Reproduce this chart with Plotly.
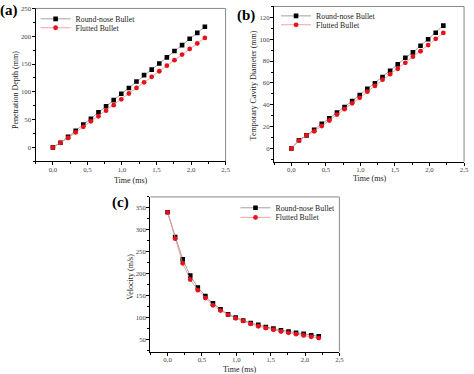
import plotly.graph_objects as go

time_ms = [0.0, 0.11, 0.22, 0.33, 0.44, 0.55, 0.66, 0.77, 0.88, 0.99, 1.10,
           1.21, 1.32, 1.43, 1.54, 1.65, 1.76, 1.87, 1.98, 2.09, 2.20]

depth_round = [0, 8.5, 19, 30, 41, 51.5, 63, 74, 85, 96.5, 107,
               118.5, 130, 140, 151, 162, 173.5, 184, 195.5, 206, 217]
depth_flutted = [0, 8, 17, 27, 37, 47, 56, 66, 76, 86.5, 97,
                 107, 117, 127, 137, 147, 157, 167, 177, 187, 197]

cavity_round = [0, 7.5, 12, 17, 22.6, 27.7, 33, 38, 43.4, 49, 54.6,
                59.7, 65.4, 71, 77, 83, 88, 94, 100, 106, 112.5]
cavity_flutted = [0, 7.2, 12, 15.7, 20.5, 25.6, 31, 36, 41.3, 46.4, 52,
                  57.3, 63, 68, 73, 78.4, 84, 89, 94.7, 100.4, 105.8]

velocity_round = [340, 284, 233, 196, 169, 149.5, 133, 119.6, 108, 101, 94,
                  88, 84, 79, 75.5, 72, 69, 66, 63.5, 60.5, 58]
velocity_flutted = [340, 280, 224, 187, 163, 145, 128.5, 116.6, 107, 99, 93,
                    86.5, 81, 77, 73, 69, 66, 63, 60, 57, 54]

series_names = ["Round-nose Bullet", "Flutted Bullet"]
panel_labels = ["(a)", "(b)", "(c)"]
x_title = "Time (ms)"
y_titles = ["Penetration Depth (mm)", "Temporary Cavity Diameter (mm)", "Velocity (m/s)"]

W, H = 474, 374
FONT = "Liberation Serif"

def px_x(p):
    return p / W

def px_y(p):
    return 1 - p / H

# panel boxes in window pixels: (left, right, top, bottom)
boxes = [(36, 228, 4.5, 159), (277, 469, 2.5, 159.3), (152, 343, 195, 351.5)]
yranges = [[-25, 250], [-12, 130], [23, 375]]
ydticks = [50, 20, 50]
# axis title centres (px)
xtitle_pos = [(132, 178), (374, 176.5), (243, 369)]
ytitle_pos = [(15, 87), (256, 82), (131, 276)]

fig = go.Figure()

data_sets = [(depth_round, depth_flutted), (cavity_round, cavity_flutted),
             (velocity_round, velocity_flutted)]
# legend positions (left px, center y px) for each entry
legend_pos = [[(36, 15), (36, 24)], [(279, 12), (279, 21)], [(238, 206), (238, 215.7)]]

leg_idx = 1
for i, (r, f) in enumerate(data_sets):
    xa = "x" if i == 0 else f"x{i+1}"
    ya = "y" if i == 0 else f"y{i+1}"
    for j, (vals, name) in enumerate(zip((r, f), series_names)):
        lname = "legend" if leg_idx == 1 else f"legend{leg_idx}"
        if j == 0:
            mk = dict(symbol="square", size=4.6, color="black")
            lc = "#8a8a8a"
        else:
            mk = dict(symbol="circle", size=4.8, color="#e8101a")
            lc = "#f08a8a"
        fig.add_trace(go.Scatter(
            x=time_ms, y=vals, mode="lines+markers", name=name,
            line=dict(color=lc, width=0.8), marker=mk,
            xaxis=xa, yaxis=ya, legend=lname, showlegend=True))
        lx, ly = legend_pos[i][j]
        fig.update_layout({lname: dict(
            x=px_x(lx), y=px_y(ly), xanchor="left", yanchor="middle",
            bgcolor="rgba(0,0,0,0)", borderwidth=0,
            font=dict(family=FONT, size=7.8, color="#222"))})
        leg_idx += 1

for i, (l, r_, t, b) in enumerate(boxes):
    sx = "" if i == 0 else str(i + 1)
    xdom = [px_x(l), px_x(r_)]
    ydom = [px_y(b), px_y(t)]
    fig.update_layout({
        f"xaxis{sx}": dict(
            domain=xdom, range=[-0.25, 2.5], anchor=f"y{sx}",
            tick0=0, dtick=0.5, tickformat=".1f",
            ticks="outside", ticklen=3, tickwidth=0.8, tickcolor="black",
            minor=dict(ticks="outside", ticklen=2, tick0=0, dtick=0.25, tickcolor="black"),
            showline=True, linecolor="black", linewidth=1.2,
            showgrid=False, zeroline=False, ticklabelstandoff=-2,
            tickfont=dict(family=FONT, size=6.8, color="#444")),
        f"yaxis{sx}": dict(
            domain=ydom, range=yranges[i], anchor=f"x{sx}",
            tick0=0, dtick=ydticks[i],
            ticks="outside", ticklen=3, tickwidth=0.8, tickcolor="black",
            minor=dict(ticks="outside", ticklen=2, tick0=0, dtick=ydticks[i] / 2, tickcolor="black"),
            showline=True, linecolor="black", linewidth=1.2,
            showgrid=False, zeroline=False, ticklabelstandoff=-1,
            tickfont=dict(family=FONT, size=6.8, color="#444")),
    })
    # top and right frame lines
    fig.add_shape(type="line", xref=f"x{sx} domain", yref=f"y{sx} domain",
                  x0=0, x1=1, y0=1, y1=1, line=dict(color="#888", width=1))
    fig.add_shape(type="line", xref=f"x{sx} domain", yref=f"y{sx} domain",
                  x0=1, x1=1, y0=0, y1=1, line=dict(color="#888", width=1))
    # axis titles
    tx, ty = xtitle_pos[i]
    fig.add_annotation(text=x_title, x=px_x(tx), y=px_y(ty), xref="paper", yref="paper",
                       showarrow=False, xanchor="center", yanchor="middle",
                       font=dict(family=FONT, size=8, color="#222"))
    tx, ty = ytitle_pos[i]
    fig.add_annotation(text=y_titles[i], x=px_x(tx), y=px_y(ty), xref="paper", yref="paper",
                       showarrow=False, xanchor="center", yanchor="middle", textangle=-90,
                       font=dict(family=FONT, size=8, color="#222"))

label_pos = [(9, 7), (249, 12), (122, 201)]
for lab, (lx, ly) in zip(panel_labels, label_pos):
    fig.add_annotation(text=f"<b>{lab}</b>", x=px_x(lx), y=px_y(ly), xref="paper", yref="paper",
                       showarrow=False, xanchor="center", yanchor="middle",
                       font=dict(family=FONT, size=15, color="black"))

fig.update_layout(
    width=W, height=H, margin=dict(l=0, r=0, t=0, b=0),
    paper_bgcolor="white", plot_bgcolor="white",
    separators=", ",
    showlegend=True,
)

# remove the browser's default 8px body margin so the figure fills the window
fig.write_html("out.html", config={"displayModeBar": False},
               post_script="document.body.style.margin='0px';document.body.style.overflow='hidden';")
